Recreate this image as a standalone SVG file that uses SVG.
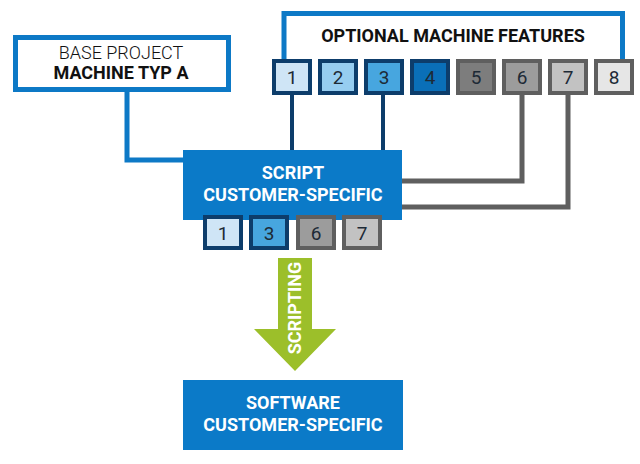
<svg xmlns="http://www.w3.org/2000/svg" width="640" height="464" viewBox="0 0 640 464">
<defs>
<style>
.t{font-family:Roboto,"Liberation Sans",sans-serif;font-size:18px;text-anchor:middle}
.b{font-weight:bold}
.w{fill:#fff}
.num{font-family:Roboto,"Liberation Sans",sans-serif;font-size:19px;text-anchor:middle;fill:#1d2a36}
.fb{stroke-width:4}
.nav{stroke:#0d3d6b}
.gry{stroke:#5f5f5f}
</style>
</defs>
<rect width="640" height="464" fill="#fff"/>
<g id="connectors" fill="none">
<polyline points="127,92 127,160 185,160" stroke="#0d79c6" stroke-width="5"/>
<line x1="292" y1="95" x2="292" y2="152" stroke="#0d3d6b" stroke-width="4"/>
<line x1="383" y1="95" x2="383" y2="152" stroke="#0d3d6b" stroke-width="4"/>
<polyline points="522,95 522,181 400,181" stroke="#5f5f5f" stroke-width="5"/>
<polyline points="568,95 568,207 400,207" stroke="#5f5f5f" stroke-width="5"/>
</g>
<g id="base-project">
<rect x="15.5" y="37.5" width="213" height="52" fill="#fff" stroke="#0d79c6" stroke-width="5"/>
<text class="t" x="121" y="59" font-weight="300" fill="#111">BASE PROJECT</text>
<text class="t b" x="121" y="79" fill="#111">MACHINE TYP A</text>
</g>
<g id="optional-features">
<polyline points="284,59 284,13.5 622.5,13.5 622.5,59" fill="none" stroke="#0d79c6" stroke-width="5"/>
<text class="t b" x="453" y="42" fill="#111">OPTIONAL MACHINE FEATURES</text>
</g>
<g id="feature-1"><rect class="fb nav" x="274" y="61" width="36" height="32" fill="#cfe5f6"/><text class="num" x="292" y="84">1</text></g>
<g id="feature-2"><rect class="fb nav" x="320" y="61" width="36" height="32" fill="#96cdf0"/><text class="num" x="338" y="84">2</text></g>
<g id="feature-3"><rect class="fb nav" x="366" y="61" width="36" height="32" fill="#47a6df"/><text class="num" x="384" y="84">3</text></g>
<g id="feature-4"><rect class="fb nav" x="412" y="61" width="36" height="32" fill="#0a6fb8"/><text class="num" x="430" y="84" fill="#10406c">4</text></g>
<g id="feature-5"><rect class="fb gry" x="458" y="61" width="36" height="32" fill="#7d7d7d"/><text class="num" x="476" y="84">5</text></g>
<g id="feature-6"><rect class="fb gry" x="504" y="61" width="36" height="32" fill="#9c9c9c"/><text class="num" x="522" y="84">6</text></g>
<g id="feature-7"><rect class="fb gry" x="550" y="61" width="36" height="32" fill="#c2c2c2"/><text class="num" x="568" y="84">7</text></g>
<g id="feature-8"><rect class="fb gry" x="596" y="61" width="36" height="32" fill="#e6e6e6"/><text class="num" x="614" y="84">8</text></g>
<g id="script">
<rect x="183" y="150" width="219" height="70" fill="#0b7ac8"/>
<text class="t b w" x="293" y="179">SCRIPT</text>
<text class="t b w" x="293" y="201">CUSTOMER-SPECIFIC</text>
</g>
<g id="selected-1"><rect class="fb nav" x="205" y="217" width="36" height="31" fill="#cfe5f6"/><text class="num" x="223" y="240">1</text></g>
<g id="selected-3"><rect class="fb nav" x="251" y="217" width="36" height="31" fill="#47a6df"/><text class="num" x="269" y="240">3</text></g>
<g id="selected-6"><rect class="fb gry" x="298" y="217" width="36" height="31" fill="#9c9c9c"/><text class="num" x="316" y="240">6</text></g>
<g id="selected-7"><rect class="fb gry" x="344" y="217" width="36" height="31" fill="#c2c2c2"/><text class="num" x="362" y="240">7</text></g>
<g id="scripting-arrow">
<polygon points="278,258 312,258 312,329 336,329 295,371 254,329 278,329" fill="#9cbf2a"/>
<text class="t b w" transform="translate(301,308) rotate(-90)">SCRIPTING</text>
</g>
<g id="software">
<rect x="183" y="380" width="220" height="70" fill="#0b7ac8"/>
<text class="t b w" x="293" y="409">SOFTWARE</text>
<text class="t b w" x="293" y="431">CUSTOMER-SPECIFIC</text>
</g>
</svg>
